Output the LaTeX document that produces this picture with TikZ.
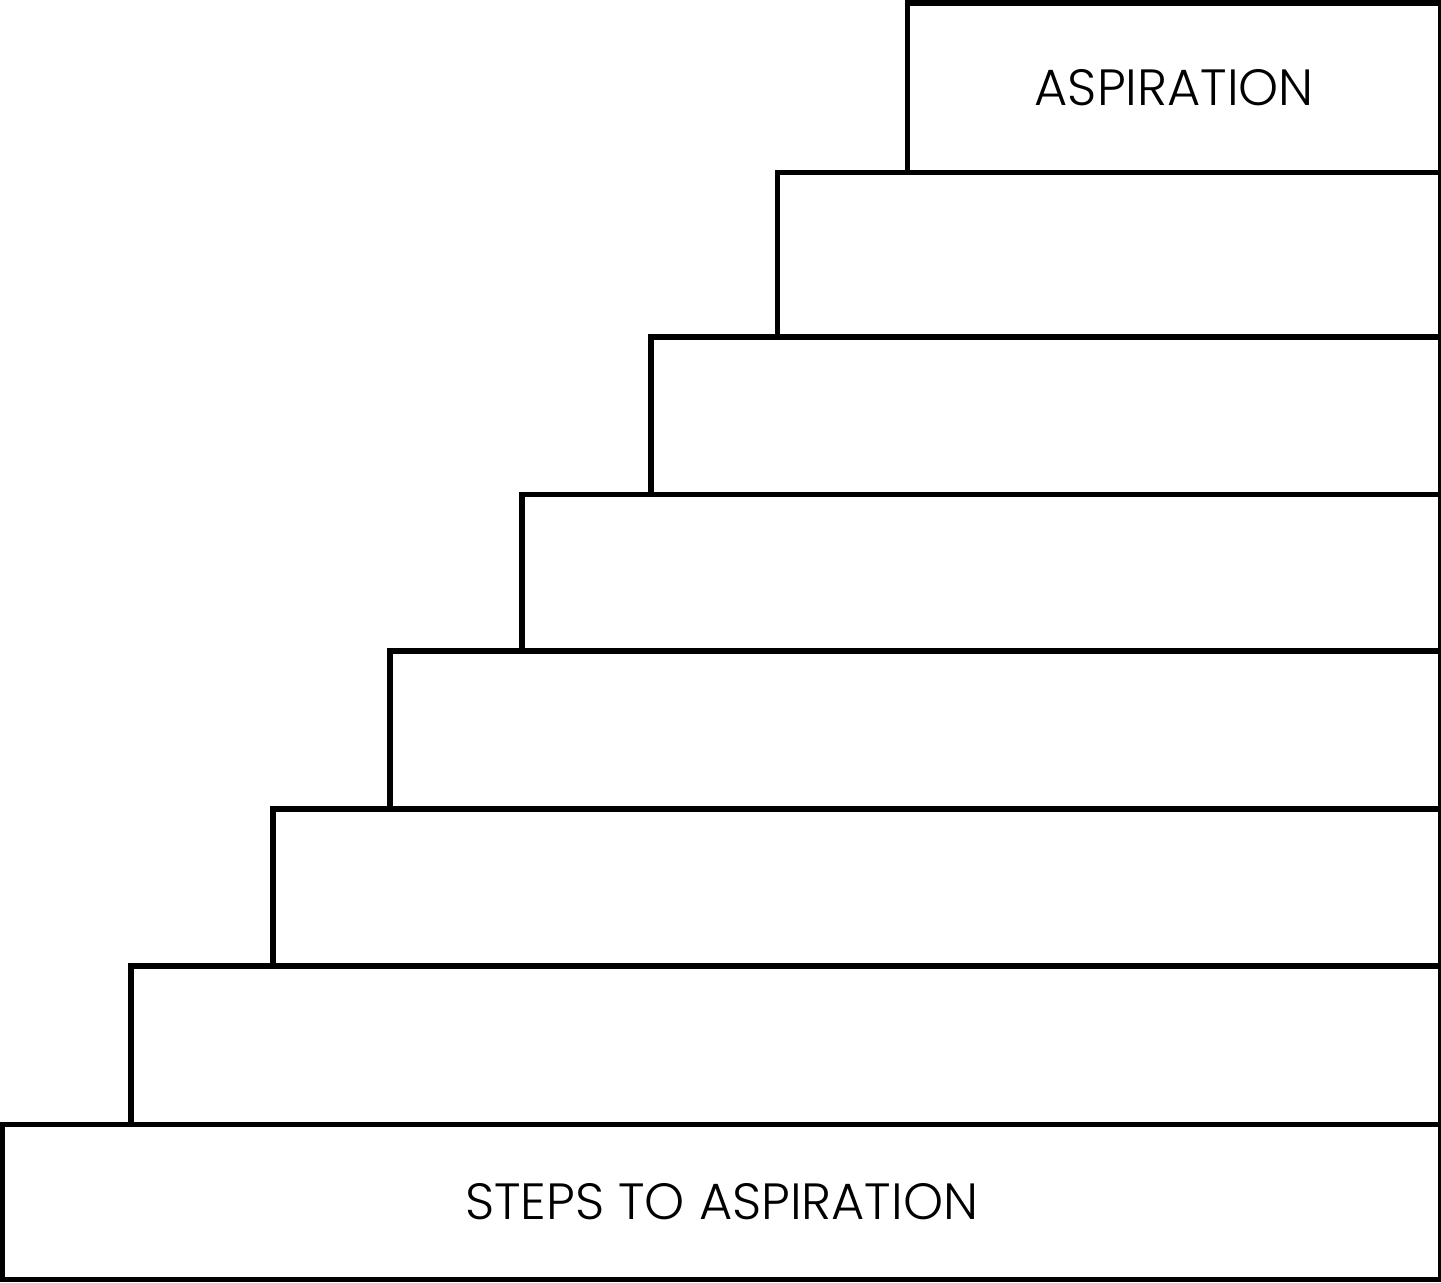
\documentclass[tikz,border=0pt]{standalone}
\usepackage{fontspec}
\setmainfont{Poppins}[UprightFont=* Light]
\usetikzlibrary{positioning}

\tikzset{stair/.style={draw=black, line width=1.6pt, rectangle, inner sep=0pt,
  outer sep=0pt, anchor=north west, font=\fontsize{14.5pt}{17pt}\selectfont}}

\begin{document}
\begin{tikzpicture}[scale=1.0]
\useasboundingbox (0,0) rectangle (14.41,-12.82);
% steps, from the top down
\node[stair, minimum width=5.335cm, minimum height=1.695cm] (aspiration) at (9.075,-0.03) {ASPIRATION};
\node[stair, minimum width=6.635cm, minimum height=1.645cm] (s2) at (7.775,-1.725) {};
\node[stair, minimum width=7.9cm, minimum height=1.575cm] (s3) at (6.51,-3.37) {};
\node[stair, minimum width=9.19cm, minimum height=1.565cm] (s4) at (5.22,-4.945) {};
\node[stair, minimum width=10.507cm, minimum height=1.577cm] (s5) at (3.903,-6.51) {};
\node[stair, minimum width=11.677cm, minimum height=1.57cm] (s6) at (2.733,-8.087) {};
\node[stair, minimum width=13.1cm, minimum height=1.588cm] (s7) at (1.31,-9.657) {};
\node[stair, minimum width=14.385cm, minimum height=1.55cm] (steps) at (0.025,-11.245) {STEPS TO ASPIRATION};
\end{tikzpicture}
\end{document}
